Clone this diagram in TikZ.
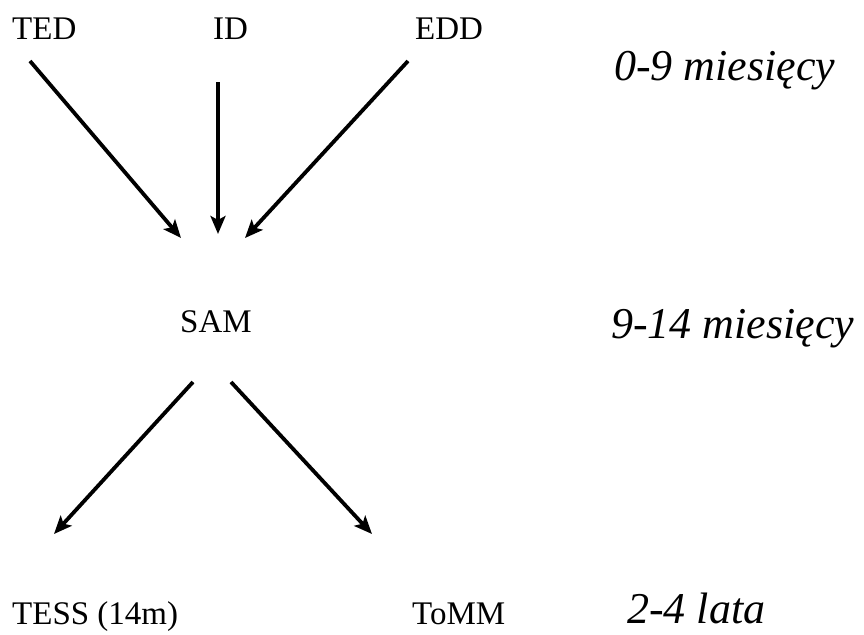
\documentclass[tikz,border=0pt]{standalone}
\usepackage{fontspec}
\setmainfont{LiberationSerif}[Extension=.ttf, UprightFont=*-Regular, ItalicFont=*-Italic, BoldFont=*-Bold]
\usetikzlibrary{arrows.meta}
\begin{document}
\begin{tikzpicture}[x=1pt,y=-1pt,
  label text/.style={font=\fontsize{33}{36}\selectfont, inner sep=0pt, anchor=base west},
  age text/.style={font=\fontsize{44}{48}\selectfont\itshape, inner sep=0pt, anchor=base west},
  link/.style={line width=3.8pt, -{Stealth[length=18pt,width=15pt,inset=4pt]}}]
  \useasboundingbox (0,0) rectangle (864,634);
  % stage labels
  \node[label text] (ted) at (12,40) {TED};
  \node[label text] (id) at (213,40) {ID};
  \node[label text] (edd) at (415,40) {EDD};
  \node[label text, anchor=base] (sam) at (216,332) {SAM};
  \node[label text] (tess) at (12,624) {TESS (14m)};
  \node[label text] (tomm) at (412,624) {ToMM};
  % age ranges
  \node[age text] (age1) at (614,81) {0-9 miesięcy};
  \node[age text] (age2) at (611,338) {9-14 miesięcy};
  \node[age text] (age3) at (627,623) {2-4 lata};
  % arrow end points
  \coordinate (ted-out) at (30,61);
  \coordinate (id-out) at (218,82);
  \coordinate (edd-out) at (408,61);
  \coordinate (sam-in1) at (181,238);
  \coordinate (sam-in2) at (218,234);
  \coordinate (sam-in3) at (245,238);
  \coordinate (sam-out1) at (193,382);
  \coordinate (sam-out2) at (231,382);
  \coordinate (tess-in) at (54,534);
  \coordinate (tomm-in) at (372,534);
  % connectors
  \draw[link] (ted-out) -- (sam-in1);
  \draw[link] (id-out) -- (sam-in2);
  \draw[link] (edd-out) -- (sam-in3);
  \draw[link] (sam-out1) -- (tess-in);
  \draw[link] (sam-out2) -- (tomm-in);
\end{tikzpicture}
\end{document}
